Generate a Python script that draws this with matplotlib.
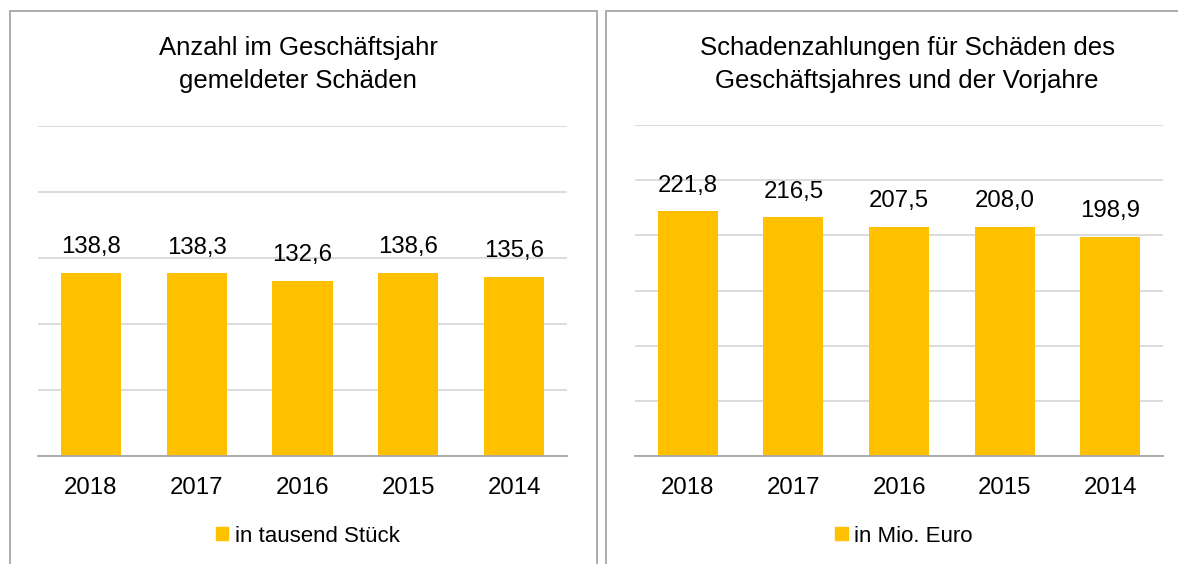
import matplotlib
import matplotlib.pyplot as plt
from matplotlib.patches import Rectangle, Patch
import numpy as np

matplotlib.rcParams['font.family'] = ['Liberation Sans', 'DejaVu Sans']

years = ['2018', '2017', '2016', '2015', '2014']
anzahl = [138.8, 138.3, 132.6, 138.6, 135.6]
zahlungen = [221.8, 216.5, 207.5, 208.0, 198.9]
anzahl_labels = ['138,8', '138,3', '132,6', '138,6', '135,6']
zahlungen_labels = ['221,8', '216,5', '207,5', '208,0', '198,9']

gold = '#FFC000'
W, H = 1178, 564
f_size = 17.3

fig = plt.figure(figsize=(W / 100, H / 100), dpi=100)

#panel frames (figure pixels -> fractions)
def px(x, y):
    return x / W, 1 - y / H

for x0, x1 in [(9.5, 596.5), (606.5, 1190)]:
    fig.patches.append(Rectangle(px(x0, 600), (x1 - x0) / W, (600 - 11) / H,
                                 transform=fig.transFigure, fill=False,
                                 edgecolor='#A6A6A6', lw=1.3))

def panel(rect, values, labels, ymax, title, title_x, legend_txt, legend_x):
    ax = fig.add_axes(rect)
    x = np.arange(len(years))
    bars = ax.bar(x, values, width=0.57, color=gold, zorder=3)
    for xi, v, lab in zip(x, values, labels):
        ax.annotate(lab, (xi, v), xytext=(0, 10.5), textcoords='offset points',
                    ha='center', va='bottom', fontsize=f_size, color='black')
    ax.set_xlim(-0.5, len(years) - 0.5)
    ax.set_ylim(0, ymax)
    ax.set_yticks(np.arange(0, ymax + 1, 50))
    ax.yaxis.grid(True, color='#D9D9D9', lw=1.3, zorder=0)
    ax.set_yticklabels([])
    ax.tick_params(axis='y', length=0)
    ax.set_xticks(x, years)
    ax.tick_params(axis='x', length=0, pad=15, labelsize=f_size)
    for s in ['top', 'right', 'left']:
        ax.spines[s].set_visible(False)
    ax.spines['bottom'].set_color('#A6A6A6')
    ax.spines['bottom'].set_linewidth(1.3)
    ax.spines['bottom'].set_zorder(4)
    fig.text(title_x / W, 1 - 64.5 / H, title, ha='center', va='center',
             fontsize=18.5, linespacing=1.5)
    fig.legend(handles=[Patch(color=gold)], labels=[legend_txt], loc='center',
               bbox_to_anchor=px(legend_x, 536), frameon=False, fontsize=16,
               handlelength=0.55, handleheight=0.55, handletextpad=0.3,
               borderpad=0)
    return ax

panel([38 / W, 1 - 456 / H, 529 / W, 330 / H], anzahl, anzahl_labels, 250,
      'Anzahl im Geschäftsjahr\ngemeldeter Schäden', 298,
      'in tausend Stück', 307.5)
panel([635 / W, 1 - 456 / H, 528 / W, 331 / H], zahlungen, zahlungen_labels, 300,
      'Schadenzahlungen für Schäden des\nGeschäftsjahres und der Vorjahre', 907,
      'in Mio. Euro', 904)

fig.savefig('out.png', dpi=100)
